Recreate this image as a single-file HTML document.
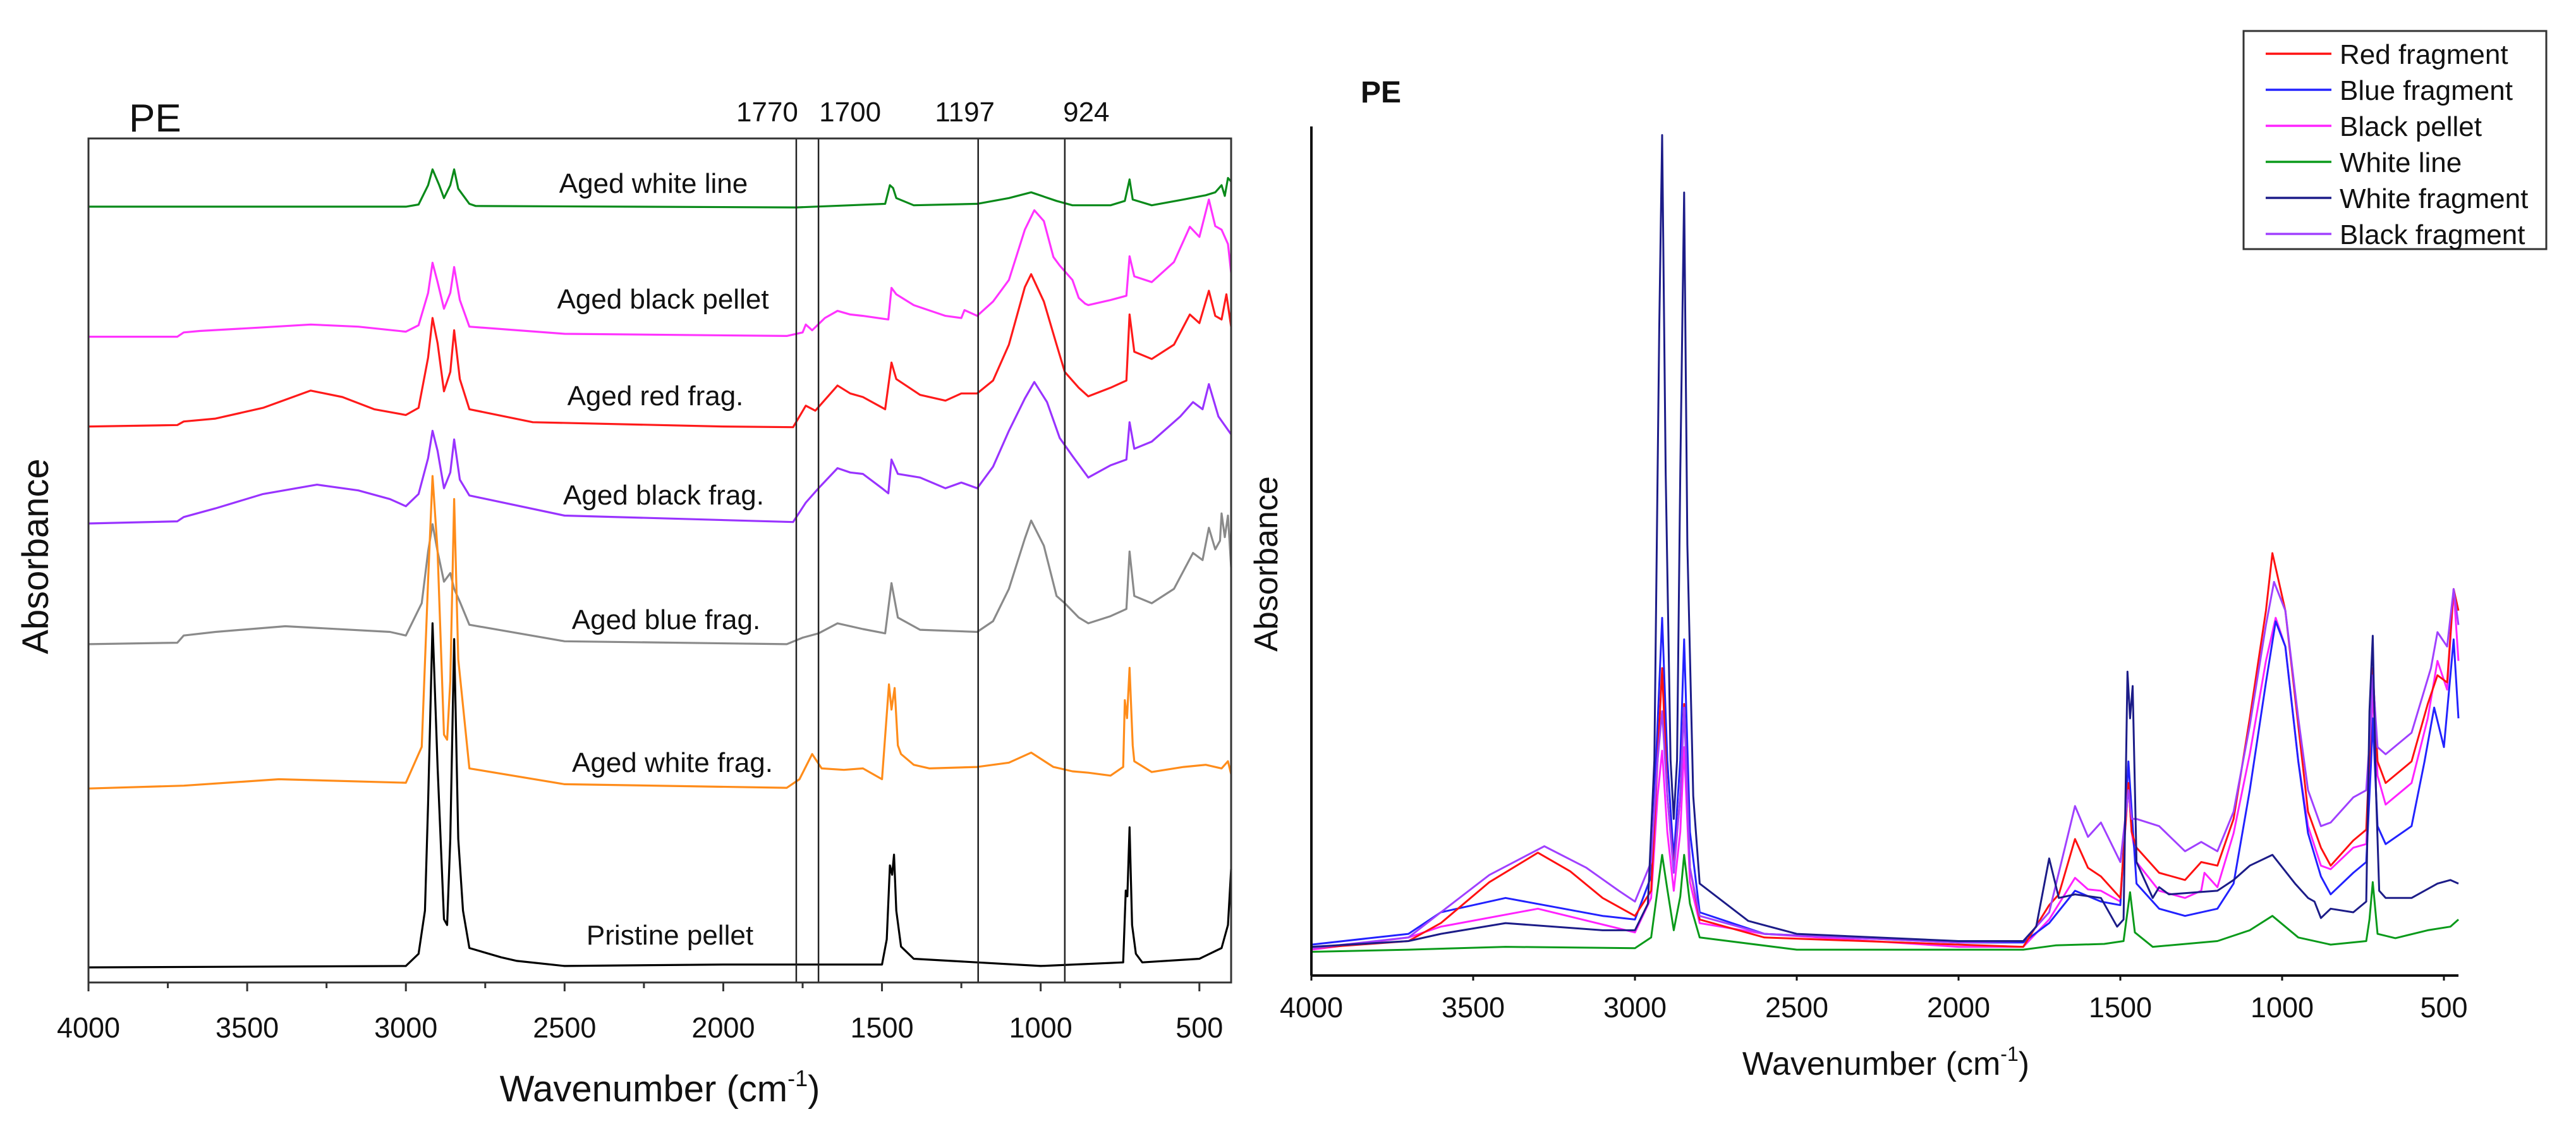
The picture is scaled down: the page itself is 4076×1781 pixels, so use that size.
<!DOCTYPE html>
<html><head><meta charset="utf-8">
<style>
html,body{margin:0;padding:0;background:#fff;}
svg{display:block;font-family:"Liberation Sans",Arial,sans-serif;}
</style></head>
<body>
<svg id="chart" width="4076" height="1781" viewBox="0 0 4076 1781" xmlns="http://www.w3.org/2000/svg">
<rect width="4076" height="1781" fill="#fff"/>
<g id="left"></g>
<g id="right"></g>
</svg>
<script>
// ---------- LEFT PANEL DATA (wavenumber cm-1, absorbance arb. units, stacked) ----------
const leftWn_white_line = [4000,3000,2960,2930,2916,2895,2880,2860,2848,2835,2800,2780,1770,1600,1490,1475,1465,1455,1400,1200,1100,1030,950,900,780,735,720,710,650,550,480,450,430,420,410,400];
const leftAb_white_line = [1080,1080,1083,1110,1132,1110,1092,1110,1132,1105,1084,1081,1079,1082,1084,1110,1106,1092,1082,1084,1092,1100,1088,1082,1082,1088,1118,1090,1082,1090,1096,1100,1110,1095,1120,1115];
const leftWn_black_pellet = [4000,3720,3700,3650,3450,3300,3150,3000,2960,2930,2916,2900,2880,2860,2848,2830,2800,2500,1800,1750,1740,1720,1680,1640,1600,1560,1480,1470,1455,1400,1300,1250,1240,1200,1150,1100,1050,1020,990,960,940,900,880,860,850,780,730,720,705,650,580,530,500,470,450,430,410,400];
const leftAb_black_pellet = [899,899,905,907,912,916,913,906,915,960,1002,975,938,960,996,950,913,903,900,905,916,908,925,935,930,928,923,967,958,943,928,925,936,928,948,978,1048,1075,1060,1010,998,978,953,945,943,950,956,1011,983,975,1003,1052,1038,1090,1053,1048,1028,988];
const leftWn_red_frag = [4000,3720,3700,3600,3450,3300,3200,3100,3000,2960,2930,2916,2900,2880,2860,2848,2830,2800,2600,2000,1780,1740,1710,1640,1600,1560,1490,1470,1455,1380,1300,1250,1200,1150,1100,1050,1030,990,950,924,880,850,780,730,720,705,650,580,530,500,470,450,430,415,400];
const leftAb_red_frag = [774,776,781,785,800,824,815,798,790,800,870,925,890,823,850,908,840,798,780,774,773,803,796,831,820,815,798,863,840,818,810,820,820,838,888,968,986,948,888,850,828,816,828,838,930,878,868,888,930,918,963,928,923,958,913];
const leftWn_black_frag = [4000,3720,3700,3600,3450,3280,3150,3050,3000,2960,2930,2916,2900,2880,2860,2848,2830,2800,2500,1780,1740,1700,1640,1600,1560,1500,1480,1470,1450,1380,1300,1250,1200,1150,1100,1050,1020,980,940,900,850,780,730,720,705,650,560,520,490,470,440,400];
const leftAb_black_frag = [639,642,648,660,680,693,685,673,663,680,730,768,740,688,710,756,700,678,650,641,668,688,716,710,708,688,681,728,708,703,688,696,688,718,768,813,836,808,758,733,703,720,728,780,743,753,788,808,798,833,788,763];
const leftWn_blue_frag = [4000,3720,3700,3600,3380,3050,3000,2950,2930,2916,2900,2880,2860,2848,2830,2800,2500,1800,1750,1700,1640,1560,1490,1470,1450,1380,1200,1150,1100,1050,1030,990,950,924,880,850,780,730,720,705,650,580,520,490,470,450,435,430,420,410,400];
const leftAb_blue_frag = [471,473,483,488,496,488,483,528,600,638,600,558,570,548,530,498,475,471,480,486,500,492,486,556,508,491,488,503,548,618,643,608,538,528,508,500,510,520,600,538,528,548,598,588,633,603,615,653,620,650,578];
const leftWn_white_frag = [4000,3700,3400,3000,2950,2930,2916,2900,2880,2870,2860,2848,2835,2800,2500,1800,1760,1720,1690,1620,1560,1500,1478,1470,1460,1450,1440,1400,1350,1200,1150,1100,1030,960,900,850,780,740,735,728,720,710,705,650,550,480,430,410,400];
const leftAb_white_frag = [270,274,283,278,328,560,705,600,345,338,420,673,450,298,276,271,283,318,298,296,298,283,415,380,410,330,318,303,298,300,303,306,320,300,294,292,288,300,393,368,438,330,308,293,300,303,298,308,290];
const leftWn_pristine = [4000,3000,2960,2940,2930,2916,2900,2880,2870,2860,2848,2835,2820,2800,2700,2650,2500,2000,1500,1485,1475,1468,1462,1455,1440,1400,1000,740,732,727,720,712,700,680,500,430,410,400];
const leftAb_pristine = [21,23,40,100,250,500,300,88,80,200,478,200,100,48,35,30,23,25,25,60,163,150,178,100,50,33,23,28,128,120,216,80,40,28,33,48,80,158];

const leftXTicks = [4000,3500,3000,2500,2000,1500,1000,500];
const leftMarkers = [1770,1700,1197,924];

// ---------- RIGHT PANEL DATA ----------
const rightWn_white_line = [4000,3700,3400,3000,2950,2930,2916,2900,2880,2860,2848,2830,2800,2500,1800,1700,1550,1490,1470,1455,1400,1200,1100,1030,950,850,740,730,720,705,650,550,480,455];
const rightAb_white_line = [33,36,40,38,53,120,168,120,63,110,168,100,53,36,36,42,44,48,116,60,40,48,63,83,53,43,48,78,130,58,52,63,68,78];
const rightWn_red = [4000,3700,3600,3450,3300,3200,3100,3000,2950,2930,2916,2900,2880,2860,2848,2830,2800,2600,2000,1800,1720,1690,1640,1600,1560,1500,1475,1465,1450,1380,1300,1250,1200,1150,1100,1050,1030,990,950,920,880,850,780,740,725,720,705,680,600,550,520,490,470,455];
const rightAb_red = [38,48,73,130,171,145,108,83,118,300,428,250,148,250,378,150,78,53,43,40,98,113,190,150,138,108,268,200,178,143,133,158,153,218,358,508,588,508,348,228,178,153,188,203,358,428,298,268,298,378,418,408,538,508];
const rightWn_blue = [4000,3700,3600,3400,3100,3000,2950,2930,2916,2900,2880,2860,2848,2830,2800,2600,2000,1800,1720,1640,1560,1500,1475,1465,1450,1380,1300,1200,1150,1100,1050,1020,990,950,920,880,850,780,740,725,720,705,680,600,560,530,500,470,455];
const rightAb_blue = [43,58,88,108,83,78,138,350,498,300,163,300,468,200,88,58,46,46,73,118,103,98,298,230,128,93,83,93,128,258,408,493,458,298,198,138,113,143,158,298,358,208,183,208,298,373,318,468,358];
const rightWn_black_pellet = [4000,3700,3600,3300,3000,2950,2930,2916,2900,2880,2860,2848,2830,2800,2600,2000,1800,1720,1640,1600,1560,1500,1475,1465,1450,1380,1300,1250,1240,1200,1150,1100,1050,1020,990,950,920,880,850,780,740,725,720,705,680,600,550,520,490,470,455];
const rightAb_black_pellet = [36,53,68,93,60,108,250,313,200,118,200,318,130,73,58,40,40,78,136,120,118,103,268,200,158,118,108,118,143,123,198,308,438,498,458,298,208,153,148,178,183,318,398,278,238,268,358,438,398,538,438];
const rightWn_white_frag = [4000,3700,3600,3400,3100,3000,2960,2940,2925,2916,2905,2890,2880,2870,2860,2848,2838,2820,2800,2650,2500,2000,1800,1760,1720,1690,1640,1560,1510,1490,1478,1470,1462,1450,1400,1380,1350,1200,1150,1100,1030,960,920,900,880,850,780,740,730,720,710,700,680,600,520,480,455];
const rightAb_white_frag = [40,48,58,73,63,63,100,300,900,1170,700,300,218,300,700,1090,600,250,128,76,58,48,48,68,163,108,113,108,68,78,423,358,403,158,108,123,113,118,133,153,168,128,108,103,80,93,88,103,368,473,258,118,108,108,128,133,128];
const rightWn_black_frag = [4000,3700,3600,3450,3280,3150,3050,3000,2950,2930,2916,2900,2880,2860,2848,2830,2800,2600,2000,1800,1720,1640,1600,1560,1500,1475,1465,1450,1380,1300,1250,1200,1150,1100,1050,1025,990,950,920,880,850,780,740,725,720,705,680,600,540,520,490,470,455];
const rightAb_black_frag = [38,53,88,140,180,150,118,103,158,300,368,250,143,250,373,150,83,58,46,48,88,236,193,213,158,258,218,218,208,173,186,173,228,348,488,548,508,358,258,208,213,248,258,358,418,318,308,338,428,478,458,538,488];

const rightXTicks = [4000,3500,3000,2500,2000,1500,1000,500];
const legendLabels = ["Red fragment","Blue fragment","Black pellet","White line","White fragment","Black fragment"];

// ---------- helpers ----------
const NS = "http://www.w3.org/2000/svg";
function mk(tag, attrs, parent, text){
  const e = document.createElementNS(NS, tag);
  for (const k in attrs) e.setAttribute(k, attrs[k]);
  if (text !== undefined) e.textContent = text;
  parent.appendChild(e);
  return e;
}

// ---------- LEFT PANEL ----------
const L = document.getElementById('left');
const lx0 = 140, lx1 = 1948, ly0 = 1554, ly1 = 219;
const lWnMin = 400, lWnMax = 4000, lAbMax = 1175;
function lx(w){ return lx0 + (lWnMax - w) / (lWnMax - lWnMin) * (lx1 - lx0); }
function ly(a){ return ly0 - a / lAbMax * (ly0 - ly1); }

const leftSeries = [
  {wn:leftWn_white_line, ab:leftAb_white_line, color:"#0a8a1a", name:"aged-white-line-spectrum"},
  {wn:leftWn_black_pellet, ab:leftAb_black_pellet, color:"#ff33ff", name:"aged-black-pellet-spectrum"},
  {wn:leftWn_red_frag, ab:leftAb_red_frag, color:"#ff1a1a", name:"aged-red-frag-spectrum"},
  {wn:leftWn_black_frag, ab:leftAb_black_frag, color:"#9933ff", name:"aged-black-frag-spectrum"},
  {wn:leftWn_blue_frag, ab:leftAb_blue_frag, color:"#8a8a8a", name:"aged-blue-frag-spectrum"},
  {wn:leftWn_white_frag, ab:leftAb_white_frag, color:"#ff8c1a", name:"aged-white-frag-spectrum"},
  {wn:leftWn_pristine, ab:leftAb_pristine, color:"#000000", name:"pristine-pellet-spectrum"}
];
leftSeries.forEach(s=>{
  const pts = s.wn.map((w,i)=> lx(w).toFixed(1)+","+ly(s.ab[i]).toFixed(1)).join(" ");
  const p = mk('polyline',{points:pts, fill:"none", stroke:s.color, "stroke-width":3.2, "stroke-linejoin":"round"}, L);
  
  
});

// marker lines (label offsets relative to line, in px)
const markerLabelDx = [-46, 50, -21, 34];
leftMarkers.forEach((m,i)=>{
  const ln = mk('line',{x1:lx(m), x2:lx(m), y1:ly1, y2:ly0, stroke:"#222", "stroke-width":2.5}, L);
  
  
  const t = mk('text',{x:lx(m)+markerLabelDx[i], y:192, "font-size":44, "text-anchor":"middle", fill:"#111"}, L, String(m));
  
  
});

// frame
const lf = mk('rect',{x:lx0, y:ly1, width:lx1-lx0, height:ly0-ly1, fill:"none", stroke:"#333", "stroke-width":3}, L);



// ticks
for (let w = 4000; w >= 500; w -= 250){
  const major = (w % 500 === 0);
  const tk = mk('line',{x1:lx(w), x2:lx(w), y1:ly0, y2:ly0 + (major?14:9), stroke:"#333", "stroke-width":3}, L);
  
  
}
leftXTicks.forEach(w=>{
  const t = mk('text',{x:lx(w), y:1641, "font-size":45, "text-anchor":"middle", fill:"#111"}, L, String(w));
  
  
});

// titles and labels
(function(){
  const t1 = mk('text',{x:204, y:208, "font-size":62, fill:"#111"}, L, "PE");
  
  
  const xt = mk('text',{x:1044, y:1742, "font-size":58, "text-anchor":"middle", fill:"#111"}, L);
  
  
  xt.appendChild(document.createTextNode("Wavenumber (cm"));
  mk('tspan',{"font-size":36, dy:-24}, xt, "-1");
  mk('tspan',{"font-size":58, dy:24}, xt, ")");
  const yt = mk('text',{x:0, y:0, "font-size":58, "text-anchor":"middle", fill:"#111", transform:"translate(76,880) rotate(-90)"}, L, "Absorbance");
  
  
  const labels = [
    ["Aged white line",1034,305],["Aged black pellet",1049,488],["Aged red frag.",1037,641],
    ["Aged black frag.",1050,798],["Aged blue frag.",1054,995],["Aged white frag.",1064,1221],["Pristine pellet",1060,1494]
  ];
  labels.forEach(l=>{
    const t = mk('text',{x:l[1], y:l[2], "font-size":44, "text-anchor":"middle", fill:"#111"}, L, l[0]);
    
    
  });
})();

// ---------- RIGHT PANEL ----------
const R = document.getElementById('right');
const rx0 = 2075, ry0 = 1543, ry1 = 200;
const rPxPerWn = 0.512, rAbMax = 1182;
function rx(w){ return rx0 + (4000 - w) * rPxPerWn; }
function ry(a){ return ry0 - a / rAbMax * (ry0 - ry1); }

const rightSeries = [
  {wn:rightWn_white_line, ab:rightAb_white_line, color:"#0a9a1a", name:"white-line-spectrum"},
  {wn:rightWn_black_pellet, ab:rightAb_black_pellet, color:"#ff22ff", name:"black-pellet-spectrum"},
  {wn:rightWn_blue, ab:rightAb_blue, color:"#2222ff", name:"blue-fragment-spectrum"},
  {wn:rightWn_red, ab:rightAb_red, color:"#ff1111", name:"red-fragment-spectrum"},
  {wn:rightWn_black_frag, ab:rightAb_black_frag, color:"#a040ff", name:"black-fragment-spectrum"},
  {wn:rightWn_white_frag, ab:rightAb_white_frag, color:"#1c1c88", name:"white-fragment-spectrum"}
];
rightSeries.forEach(s=>{
  const pts = s.wn.map((w,i)=> rx(w).toFixed(1)+","+ry(s.ab[i]).toFixed(1)).join(" ");
  const p = mk('polyline',{points:pts, fill:"none", stroke:s.color, "stroke-width":3, "stroke-linejoin":"round"}, R);
  
  
});

(function(){
  const ya = mk('line',{x1:rx0, x2:rx0, y1:ry1, y2:ry0, stroke:"#111", "stroke-width":4}, R);
  
  
  const xa = mk('line',{x1:rx0, x2:rx(455), y1:ry0, y2:ry0, stroke:"#111", "stroke-width":4}, R);
  
  
  rightXTicks.forEach(w=>{
    const tk = mk('line',{x1:rx(w), x2:rx(w), y1:ry0, y2:ry0+8, stroke:"#111", "stroke-width":3}, R);
    
    
    const t = mk('text',{x:rx(w), y:1609, "font-size":45, "text-anchor":"middle", fill:"#111"}, R, String(w));
    
    
  });
  const pe = mk('text',{x:2185, y:162, "font-size":48, "font-weight":"bold", "text-anchor":"middle", fill:"#111"}, R, "PE");
  
  
  const xt = mk('text',{x:2984, y:1700, "font-size":52, "text-anchor":"middle", fill:"#111"}, R);
  
  
  xt.appendChild(document.createTextNode("Wavenumber (cm"));
  mk('tspan',{"font-size":32, dy:-22}, xt, "-1");
  mk('tspan',{"font-size":52, dy:22}, xt, ")");
  const yt = mk('text',{x:0, y:0, "font-size":52, "text-anchor":"middle", fill:"#111", transform:"translate(2021,892) rotate(-90)"}, R, "Absorbance");
  
  

  // legend
  const lg = mk('g',{}, R);
  
  
  const box = mk('rect',{x:3550, y:49, width:479, height:345, fill:"#fff", stroke:"#333", "stroke-width":3}, lg);
  
  
  const lcolors = ["#ff1111","#2222ff","#ff22ff","#0a9a1a","#1c1c88","#a040ff"];
  legendLabels.forEach((lab,i)=>{
    const y = 85 + i*57;
    const ln = mk('line',{x1:3585, x2:3689, y1:y, y2:y, stroke:lcolors[i], "stroke-width":3.5}, lg);
    
    
    const t = mk('text',{x:3702, y:y+16, "font-size":44, fill:"#111"}, lg, lab);
    
    
  });
})();
</script>
</body></html>
